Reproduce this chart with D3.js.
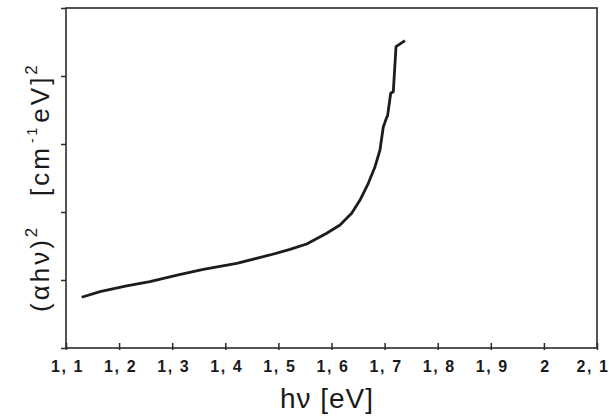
<!DOCTYPE html>
<html>
<head>
<meta charset="utf-8">
<script src="https://cdn.jsdelivr.net/npm/d3@7"></script>
<style>
  body { margin: 0; background: #fff; }
  svg text { font-family: "Liberation Sans", Arial, sans-serif; fill: #1a1a1a; }
</style>
</head>
<body>
<svg id="chart" width="609" height="416"></svg>
<script>
// photon energy (eV) and (alpha h nu)^2
const energy = [1.1296, 1.164, 1.2143, 1.258, 1.3115, 1.3586, 1.4215, 1.4842, 1.5218, 1.5533,
  1.591, 1.616, 1.638, 1.6537, 1.6693, 1.682, 1.6913, 1.6976, 1.6985, 1.704, 1.7055,
  1.7115, 1.7164, 1.7215, 1.7384];
const absorb = [0.746, 0.828, 0.912, 0.975, 1.074, 1.157, 1.246, 1.368, 1.451, 1.529,
  1.687, 1.809, 1.981, 2.176, 2.422, 2.666, 2.912, 3.254, 3.27, 3.393, 3.41,
  3.746, 3.769, 4.431, 4.519];

const xTicks = [1.1, 1.2, 1.3, 1.4, 1.5, 1.6, 1.7, 1.8, 1.9, 2, 2.1];
const yTicks = [0, 1, 2, 3, 4, 5];

const svg = d3.select('#chart');
const m = { left: 66, right: 597, top: 8, bottom: 348 };

const x = d3.scaleLinear().domain([1.1, 2.1]).range([m.left, m.right]);
const y = d3.scaleLinear().domain([0, 5]).range([m.bottom, m.top]);

const fmt = d => String(d).replace('.', ', ');

// frame
svg.append('rect')
  .attr('x', m.left).attr('y', m.top)
  .attr('width', m.right - m.left).attr('height', m.bottom - m.top)
  .attr('fill', 'none').attr('stroke', '#2a2a2a').attr('stroke-width', 1.6);

const xAxis = svg.append('g')
  .attr('transform', `translate(0,${m.bottom})`)
  .call(d3.axisBottom(x).tickValues(xTicks).tickSize(2).tickFormat(fmt));
xAxis.select('.domain').remove();
xAxis.selectAll('line').attr('y1', -5).attr('stroke', '#2a2a2a').attr('stroke-width', 1.5);
xAxis.selectAll('text')
  .attr('y', 13)
  .attr('dx', 1)
  .style('font-size', '16px')
  .style('font-weight', 'bold')
  .style('letter-spacing', '1.6px');
// last label sits against the right edge, as in the original
xAxis.selectAll('.tick').filter(d => d === 2.1).select('text')
  .attr('text-anchor', 'end').attr('dx', 12);

const yAxis = svg.append('g')
  .attr('transform', `translate(${m.left},0)`)
  .call(d3.axisLeft(y).tickValues(yTicks).tickSize(5).tickFormat(''));
yAxis.select('.domain').remove();
yAxis.selectAll('line').attr('stroke', '#2a2a2a').attr('stroke-width', 1.5);

// curve
const line = d3.line().x(d => x(d[0])).y(d => y(d[1]));
svg.append('path')
  .datum(d3.zip(energy, absorb))
  .attr('d', line)
  .attr('fill', 'none')
  .attr('stroke', '#1c1c1c')
  .attr('stroke-width', 2.8)
  .attr('stroke-linejoin', 'round');

// axis titles
svg.append('text')
  .attr('x', 327).attr('y', 408)
  .attr('text-anchor', 'middle')
  .style('font-size', '28px')
  .style('letter-spacing', '1px')
  .text('hν [eV]');

const yt1 = svg.append('text')
  .attr('transform', 'translate(49,312) rotate(-90)')
  .style('font-size', '26px')
  .style('letter-spacing', '3px');
yt1.append('tspan').text('(αhν)');
yt1.append('tspan').attr('dy', -12).style('font-size', '17px').text('2');

const yt2 = svg.append('text')
  .attr('transform', 'translate(49,196) rotate(-90)')
  .style('font-size', '26px')
  .style('letter-spacing', '3px');
yt2.append('tspan').text('[cm');
yt2.append('tspan').attr('dy', -12).attr('dx', 2).style('font-size', '14px').text('-1');
yt2.append('tspan').attr('dy', 12).attr('dx', 2).text('eV]');
yt2.append('tspan').attr('dy', -12).style('font-size', '17px').text('2');
</script>
</body>
</html>
